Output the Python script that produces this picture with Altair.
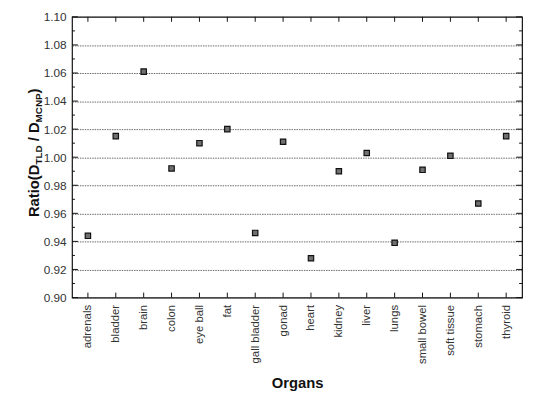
import altair as alt
import pandas as pd

organs = ["adrenals", "bladder", "brain", "colon", "eye ball", "fat", "gall bladder", "gonad",
          "heart", "kidney", "liver", "lungs", "small bowel", "soft tissue", "stomach", "thyroid"]
ratios = [0.944, 1.015, 1.061, 0.992, 1.010, 1.020, 0.946, 1.011,
          0.928, 0.990, 1.003, 0.939, 0.991, 1.001, 0.967, 1.015]
major_ticks = [0.90, 0.92, 0.94, 0.96, 0.98, 1.00, 1.02, 1.04, 1.06, 1.08, 1.10]
minor_ticks = [0.91, 0.93, 0.95, 0.97, 0.99, 1.01, 1.03, 1.05, 1.07, 1.09]

W, H = 457, 285
FONT = "Liberation Sans"

df = pd.DataFrame({"organ": organs, "ratio": ratios})
df_org = pd.DataFrame({"organ": organs})
df_major = pd.DataFrame({"ratio": major_ticks})
df_minor = pd.DataFrame({"ratio": minor_ticks})

xs = alt.Scale(type="point", domain=organs, padding=0.57)
ys = alt.Scale(domain=[0.90, 1.10], nice=False, zero=False)

x_axis = alt.Axis(title="Organs", labelAngle=270, labelFontSize=11.5, labelColor="#333",
                  labelPadding=7, ticks=False, domain=False, grid=False,
                  titleFontSize=15, titleFontWeight="bold", titlePadding=12,
                  titleColor="#111", labelFont=FONT, titleFont=FONT)
y_axis = alt.Axis(title=None, values=major_ticks, format=".2f", labelFontSize=12,
                  labelColor="#333", labelPadding=6, ticks=False, domain=False,
                  grid=True, gridColor="#444", gridDash=[1.5, 1], gridWidth=0.8,
                  labelFont=FONT)

X = alt.X("organ:N", scale=xs, sort=organs, axis=x_axis, title="Organs")
Y = alt.Y("ratio:Q", scale=ys, axis=y_axis, title=None)

points = alt.Chart(df).mark_square(size=30, fill="#707070", stroke="#111", strokeWidth=1.2, opacity=1).encode(
    x=X, y=Y)

def xrule(y0, y1):
    return alt.Chart(df_org).mark_rule(color="#111", strokeWidth=1).encode(
        x=X, y=alt.value(y0), y2=alt.value(y1))

def yrule(data, x0, x1):
    return alt.Chart(data).mark_rule(color="#111", strokeWidth=1).encode(
        y=Y, x=alt.value(x0), x2=alt.value(x1))

ticks = [xrule(H, H - 5), xrule(0, 5),
         yrule(df_major, 0, 6), yrule(df_major, W, W - 6),
         yrule(df_minor, 0, 3), yrule(df_minor, W, W - 3)]

# y-axis title with subscripts: Ratio(D_TLD / D_MCNP)
widths = {"R": 722, "a": 556, "t": 333, "i": 278, "o": 611, "(": 333, "D": 722, "T": 611,
          "L": 611, " ": 278, "/": 278, "M": 833, "C": 722, "N": 722, "P": 667, ")": 333}
def tw(s, size):
    return sum(widths[c] for c in s) * size / 1000.0

MAIN, SUB = 15, 10
# (text, size, is_subscript, gap before in px)
segments = [("Ratio(D", MAIN, False, 0), ("TLD", SUB, True, 0), ("/ D", MAIN, False, tw(" ", MAIN)),
            ("MCNP", SUB, True, 0), (")", MAIN, False, 0)]
total = sum(tw(s, sz) + g for s, sz, _, g in segments)
center_y = 138
yy = center_y + total / 2
base_x = -34
title_layers = []
for s, sz, sub, gap in segments:
    yy -= gap
    title_layers.append(
        alt.Chart(pd.DataFrame({"t": [s]})).mark_text(
            angle=270, align="left", baseline="alphabetic", fontSize=sz,
            fontWeight="bold", font=FONT, color="#111").encode(
            text="t:N", x=alt.value(base_x + (4 if sub else 0)), y=alt.value(yy)))
    yy -= tw(s, sz)

chart = alt.layer(*ticks, points, *title_layers).properties(
    width=W, height=H,
    autosize=alt.AutoSizeParams(type="none"),
    padding={"left": 65, "top": 6, "right": 4, "bottom": 98},
    background="white",
).configure(font=FONT).configure_view(stroke="#111", strokeWidth=1.2)

chart.save("out.html", embed_options={"renderer": "svg", "actions": False})
